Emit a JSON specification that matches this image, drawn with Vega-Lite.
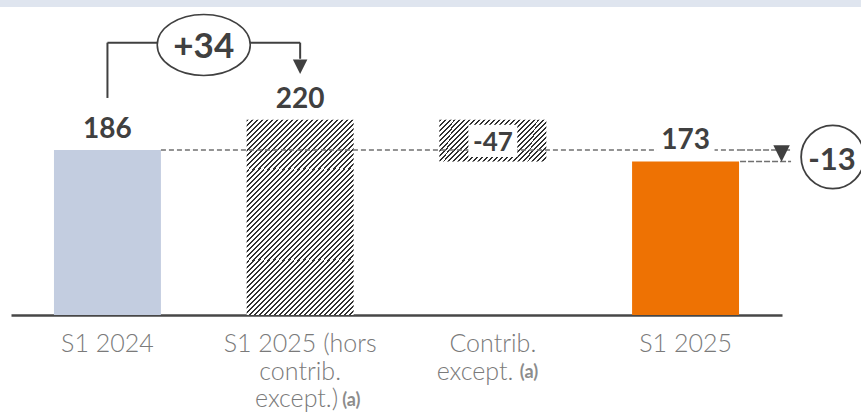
{
  "$schema": "https://vega.github.io/schema/vega-lite/v6.json",
  "autosize": {"type": "none"},
  "width": 771,
  "height": 315,
  "padding": {"left": 11, "top": 0, "right": 79, "bottom": 103},
  "background": "#ffffff",
  "config": {
    "view": {"stroke": null},
    "axisY": {"disable": true},
    "axisX": {"labels": false, "ticks": false, "grid": false, "domainColor": "#474747", "domainWidth": 2.5},
    "text": {"font": "Lato"}
  },
  "datasets": {
    "bars": [
      {"cat": "S1 2024", "value": 186, "base": 0, "label": "186", "kind": "solid"},
      {"cat": "S1 2025 (hors contrib. except.)", "value": 220, "base": 0, "label": "220", "kind": "hatch"},
      {"cat": "Contrib. except.", "value": 220, "base": 173, "label": "-47", "kind": "delta"},
      {"cat": "S1 2025", "value": 173, "base": 0, "label": "173", "kind": "solid"}
    ],
    "notes": [
      {"cat": "S1 2024", "end": "S1 2025 (hors contrib. except.)", "v1": 186, "v2": 220, "label": "+34", "kind": "up"},
      {"cat": "S1 2024", "end": "S1 2025", "v1": 186, "v2": 173, "label": "-13", "kind": "total"}
    ],
    "links": [
      {"seg": "dash", "cat": "S1 2024", "lvl": 186},
      {"seg": "dash", "cat": "S1 2025", "lvl": 186},
      {"seg": "bracket", "cat": "S1 2024", "lvl": 186},
      {"seg": "bracket", "cat": "S1 2025 (hors contrib. except.)", "lvl": 186}
    ],
    "labels": [
      {"cat": "S1 2024", "line": 1, "text": "S1 2024", "sup": ""},
      {"cat": "S1 2025 (hors contrib. except.)", "line": 1, "text": "S1 2025 (hors", "sup": ""},
      {"cat": "S1 2025 (hors contrib. except.)", "line": 2, "text": "contrib.", "sup": ""},
      {"cat": "S1 2025 (hors contrib. except.)", "line": 3, "text": "except.)", "sup": "(a)"},
      {"cat": "Contrib. except.", "line": 1, "text": "Contrib.", "sup": ""},
      {"cat": "Contrib. except.", "line": 2, "text": "except.", "sup": "(a)"},
      {"cat": "S1 2025", "line": 1, "text": "S1 2025", "sup": ""}
    ]
  },
  "layer": [
    {
      "data": {"name": "bars"},
      "transform": [{"filter": "datum.kind == 'solid'"}],
      "mark": {"type": "bar"},
      "encoding": {
        "x": {"field": "cat", "type": "nominal", "title": null, "scale": {"domain": ["S1 2024", "S1 2025 (hors contrib. except.)", "Contrib. except.", "S1 2025"], "paddingInner": 0.445, "paddingOuter": 0.223}},
        "y": {"field": "value", "type": "quantitative", "scale": {"domain": [0, 355], "nice": false, "zero": true}},
        "color": {"field": "cat", "type": "nominal", "scale": {"domain": ["S1 2024", "S1 2025"], "range": ["#c3cde0", "#ee7203"]}, "legend": null}
      }
    },
    {
      "data": {"values": [{"cat": "S1 2024"}]},
      "mark": {"type": "bar", "color": "#dfe5ef", "width": 861, "xOffset": 323},
      "encoding": {
        "x": {"field": "cat", "type": "nominal", "title": null},
        "y": {"datum": 355, "type": "quantitative"},
        "y2": {"datum": 347}
      }
    },
    {
      "data": {"name": "bars"},
      "transform": [{"filter": "datum.kind == 'hatch'"}],
      "mark": {"type": "bar", "color": {"gradient": "linear", "x1": 0, "y1": 0, "x2": 0.6586, "y2": 1.189, "stops": [
        {"offset":0,"color":"#303030"},{"offset":0.0067,"color":"#303030"},{"offset":0.0067,"color":"#ffffff"},{"offset":0.0167,"color":"#ffffff"},
        {"offset":0.0167,"color":"#303030"},{"offset":0.0233,"color":"#303030"},{"offset":0.0233,"color":"#ffffff"},{"offset":0.0333,"color":"#ffffff"},
        {"offset":0.0333,"color":"#303030"},{"offset":0.04,"color":"#303030"},{"offset":0.04,"color":"#ffffff"},{"offset":0.05,"color":"#ffffff"},
        {"offset":0.05,"color":"#303030"},{"offset":0.0567,"color":"#303030"},{"offset":0.0567,"color":"#ffffff"},{"offset":0.0667,"color":"#ffffff"},
        {"offset":0.0667,"color":"#303030"},{"offset":0.0733,"color":"#303030"},{"offset":0.0733,"color":"#ffffff"},{"offset":0.0833,"color":"#ffffff"},
        {"offset":0.0833,"color":"#303030"},{"offset":0.09,"color":"#303030"},{"offset":0.09,"color":"#ffffff"},{"offset":0.1,"color":"#ffffff"},
        {"offset":0.1,"color":"#303030"},{"offset":0.1067,"color":"#303030"},{"offset":0.1067,"color":"#ffffff"},{"offset":0.1167,"color":"#ffffff"},
        {"offset":0.1167,"color":"#303030"},{"offset":0.1233,"color":"#303030"},{"offset":0.1233,"color":"#ffffff"},{"offset":0.1333,"color":"#ffffff"},
        {"offset":0.1333,"color":"#303030"},{"offset":0.14,"color":"#303030"},{"offset":0.14,"color":"#ffffff"},{"offset":0.15,"color":"#ffffff"},
        {"offset":0.15,"color":"#303030"},{"offset":0.1567,"color":"#303030"},{"offset":0.1567,"color":"#ffffff"},{"offset":0.1667,"color":"#ffffff"},
        {"offset":0.1667,"color":"#303030"},{"offset":0.1733,"color":"#303030"},{"offset":0.1733,"color":"#ffffff"},{"offset":0.1833,"color":"#ffffff"},
        {"offset":0.1833,"color":"#303030"},{"offset":0.19,"color":"#303030"},{"offset":0.19,"color":"#ffffff"},{"offset":0.2,"color":"#ffffff"},
        {"offset":0.2,"color":"#303030"},{"offset":0.2067,"color":"#303030"},{"offset":0.2067,"color":"#ffffff"},{"offset":0.2167,"color":"#ffffff"},
        {"offset":0.2167,"color":"#303030"},{"offset":0.2233,"color":"#303030"},{"offset":0.2233,"color":"#ffffff"},{"offset":0.2333,"color":"#ffffff"},
        {"offset":0.2333,"color":"#303030"},{"offset":0.24,"color":"#303030"},{"offset":0.24,"color":"#ffffff"},{"offset":0.25,"color":"#ffffff"},
        {"offset":0.25,"color":"#303030"},{"offset":0.2567,"color":"#303030"},{"offset":0.2567,"color":"#ffffff"},{"offset":0.2667,"color":"#ffffff"},
        {"offset":0.2667,"color":"#303030"},{"offset":0.2733,"color":"#303030"},{"offset":0.2733,"color":"#ffffff"},{"offset":0.2833,"color":"#ffffff"},
        {"offset":0.2833,"color":"#303030"},{"offset":0.29,"color":"#303030"},{"offset":0.29,"color":"#ffffff"},{"offset":0.3,"color":"#ffffff"},
        {"offset":0.3,"color":"#303030"},{"offset":0.3067,"color":"#303030"},{"offset":0.3067,"color":"#ffffff"},{"offset":0.3167,"color":"#ffffff"},
        {"offset":0.3167,"color":"#303030"},{"offset":0.3233,"color":"#303030"},{"offset":0.3233,"color":"#ffffff"},{"offset":0.3333,"color":"#ffffff"},
        {"offset":0.3333,"color":"#303030"},{"offset":0.34,"color":"#303030"},{"offset":0.34,"color":"#ffffff"},{"offset":0.35,"color":"#ffffff"},
        {"offset":0.35,"color":"#303030"},{"offset":0.3567,"color":"#303030"},{"offset":0.3567,"color":"#ffffff"},{"offset":0.3667,"color":"#ffffff"},
        {"offset":0.3667,"color":"#303030"},{"offset":0.3733,"color":"#303030"},{"offset":0.3733,"color":"#ffffff"},{"offset":0.3833,"color":"#ffffff"},
        {"offset":0.3833,"color":"#303030"},{"offset":0.39,"color":"#303030"},{"offset":0.39,"color":"#ffffff"},{"offset":0.4,"color":"#ffffff"},
        {"offset":0.4,"color":"#303030"},{"offset":0.4067,"color":"#303030"},{"offset":0.4067,"color":"#ffffff"},{"offset":0.4167,"color":"#ffffff"},
        {"offset":0.4167,"color":"#303030"},{"offset":0.4233,"color":"#303030"},{"offset":0.4233,"color":"#ffffff"},{"offset":0.4333,"color":"#ffffff"},
        {"offset":0.4333,"color":"#303030"},{"offset":0.44,"color":"#303030"},{"offset":0.44,"color":"#ffffff"},{"offset":0.45,"color":"#ffffff"},
        {"offset":0.45,"color":"#303030"},{"offset":0.4567,"color":"#303030"},{"offset":0.4567,"color":"#ffffff"},{"offset":0.4667,"color":"#ffffff"},
        {"offset":0.4667,"color":"#303030"},{"offset":0.4733,"color":"#303030"},{"offset":0.4733,"color":"#ffffff"},{"offset":0.4833,"color":"#ffffff"},
        {"offset":0.4833,"color":"#303030"},{"offset":0.49,"color":"#303030"},{"offset":0.49,"color":"#ffffff"},{"offset":0.5,"color":"#ffffff"},
        {"offset":0.5,"color":"#303030"},{"offset":0.5067,"color":"#303030"},{"offset":0.5067,"color":"#ffffff"},{"offset":0.5167,"color":"#ffffff"},
        {"offset":0.5167,"color":"#303030"},{"offset":0.5233,"color":"#303030"},{"offset":0.5233,"color":"#ffffff"},{"offset":0.5333,"color":"#ffffff"},
        {"offset":0.5333,"color":"#303030"},{"offset":0.54,"color":"#303030"},{"offset":0.54,"color":"#ffffff"},{"offset":0.55,"color":"#ffffff"},
        {"offset":0.55,"color":"#303030"},{"offset":0.5567,"color":"#303030"},{"offset":0.5567,"color":"#ffffff"},{"offset":0.5667,"color":"#ffffff"},
        {"offset":0.5667,"color":"#303030"},{"offset":0.5733,"color":"#303030"},{"offset":0.5733,"color":"#ffffff"},{"offset":0.5833,"color":"#ffffff"},
        {"offset":0.5833,"color":"#303030"},{"offset":0.59,"color":"#303030"},{"offset":0.59,"color":"#ffffff"},{"offset":0.6,"color":"#ffffff"},
        {"offset":0.6,"color":"#303030"},{"offset":0.6067,"color":"#303030"},{"offset":0.6067,"color":"#ffffff"},{"offset":0.6167,"color":"#ffffff"},
        {"offset":0.6167,"color":"#303030"},{"offset":0.6233,"color":"#303030"},{"offset":0.6233,"color":"#ffffff"},{"offset":0.6333,"color":"#ffffff"},
        {"offset":0.6333,"color":"#303030"},{"offset":0.64,"color":"#303030"},{"offset":0.64,"color":"#ffffff"},{"offset":0.65,"color":"#ffffff"},
        {"offset":0.65,"color":"#303030"},{"offset":0.6567,"color":"#303030"},{"offset":0.6567,"color":"#ffffff"},{"offset":0.6667,"color":"#ffffff"},
        {"offset":0.6667,"color":"#303030"},{"offset":0.6733,"color":"#303030"},{"offset":0.6733,"color":"#ffffff"},{"offset":0.6833,"color":"#ffffff"},
        {"offset":0.6833,"color":"#303030"},{"offset":0.69,"color":"#303030"},{"offset":0.69,"color":"#ffffff"},{"offset":0.7,"color":"#ffffff"},
        {"offset":0.7,"color":"#303030"},{"offset":0.7067,"color":"#303030"},{"offset":0.7067,"color":"#ffffff"},{"offset":0.7167,"color":"#ffffff"},
        {"offset":0.7167,"color":"#303030"},{"offset":0.7233,"color":"#303030"},{"offset":0.7233,"color":"#ffffff"},{"offset":0.7333,"color":"#ffffff"},
        {"offset":0.7333,"color":"#303030"},{"offset":0.74,"color":"#303030"},{"offset":0.74,"color":"#ffffff"},{"offset":0.75,"color":"#ffffff"},
        {"offset":0.75,"color":"#303030"},{"offset":0.7567,"color":"#303030"},{"offset":0.7567,"color":"#ffffff"},{"offset":0.7667,"color":"#ffffff"},
        {"offset":0.7667,"color":"#303030"},{"offset":0.7733,"color":"#303030"},{"offset":0.7733,"color":"#ffffff"},{"offset":0.7833,"color":"#ffffff"},
        {"offset":0.7833,"color":"#303030"},{"offset":0.79,"color":"#303030"},{"offset":0.79,"color":"#ffffff"},{"offset":0.8,"color":"#ffffff"},
        {"offset":0.8,"color":"#303030"},{"offset":0.8067,"color":"#303030"},{"offset":0.8067,"color":"#ffffff"},{"offset":0.8167,"color":"#ffffff"},
        {"offset":0.8167,"color":"#303030"},{"offset":0.8233,"color":"#303030"},{"offset":0.8233,"color":"#ffffff"},{"offset":0.8333,"color":"#ffffff"},
        {"offset":0.8333,"color":"#303030"},{"offset":0.84,"color":"#303030"},{"offset":0.84,"color":"#ffffff"},{"offset":0.85,"color":"#ffffff"},
        {"offset":0.85,"color":"#303030"},{"offset":0.8567,"color":"#303030"},{"offset":0.8567,"color":"#ffffff"},{"offset":0.8667,"color":"#ffffff"},
        {"offset":0.8667,"color":"#303030"},{"offset":0.8733,"color":"#303030"},{"offset":0.8733,"color":"#ffffff"},{"offset":0.8833,"color":"#ffffff"},
        {"offset":0.8833,"color":"#303030"},{"offset":0.89,"color":"#303030"},{"offset":0.89,"color":"#ffffff"},{"offset":0.9,"color":"#ffffff"},
        {"offset":0.9,"color":"#303030"},{"offset":0.9067,"color":"#303030"},{"offset":0.9067,"color":"#ffffff"},{"offset":0.9167,"color":"#ffffff"},
        {"offset":0.9167,"color":"#303030"},{"offset":0.9233,"color":"#303030"},{"offset":0.9233,"color":"#ffffff"},{"offset":0.9333,"color":"#ffffff"},
        {"offset":0.9333,"color":"#303030"},{"offset":0.94,"color":"#303030"},{"offset":0.94,"color":"#ffffff"},{"offset":0.95,"color":"#ffffff"},
        {"offset":0.95,"color":"#303030"},{"offset":0.9567,"color":"#303030"},{"offset":0.9567,"color":"#ffffff"},{"offset":0.9667,"color":"#ffffff"},
        {"offset":0.9667,"color":"#303030"},{"offset":0.9733,"color":"#303030"},{"offset":0.9733,"color":"#ffffff"},{"offset":0.9833,"color":"#ffffff"},
        {"offset":0.9833,"color":"#303030"},{"offset":0.99,"color":"#303030"},{"offset":0.99,"color":"#ffffff"},{"offset":1,"color":"#ffffff"}
      ]}},
      "encoding": {
        "x": {"field": "cat", "type": "nominal", "title": null},
        "y": {"field": "value", "type": "quantitative"}
      }
    },
    {
      "data": {"name": "bars"},
      "transform": [{"filter": "datum.kind == 'delta'"}],
      "mark": {"type": "bar", "color": {"gradient": "linear", "x1": 0, "y1": 0, "x2": 1.206, "y2": 0.4658, "stops": [
        {"offset":0,"color":"#303030"},{"offset":0.0133,"color":"#303030"},{"offset":0.0133,"color":"#ffffff"},{"offset":0.0333,"color":"#ffffff"},
        {"offset":0.0333,"color":"#303030"},{"offset":0.0467,"color":"#303030"},{"offset":0.0467,"color":"#ffffff"},{"offset":0.0667,"color":"#ffffff"},
        {"offset":0.0667,"color":"#303030"},{"offset":0.08,"color":"#303030"},{"offset":0.08,"color":"#ffffff"},{"offset":0.1,"color":"#ffffff"},
        {"offset":0.1,"color":"#303030"},{"offset":0.1133,"color":"#303030"},{"offset":0.1133,"color":"#ffffff"},{"offset":0.1333,"color":"#ffffff"},
        {"offset":0.1333,"color":"#303030"},{"offset":0.1467,"color":"#303030"},{"offset":0.1467,"color":"#ffffff"},{"offset":0.1667,"color":"#ffffff"},
        {"offset":0.1667,"color":"#303030"},{"offset":0.18,"color":"#303030"},{"offset":0.18,"color":"#ffffff"},{"offset":0.2,"color":"#ffffff"},
        {"offset":0.2,"color":"#303030"},{"offset":0.2133,"color":"#303030"},{"offset":0.2133,"color":"#ffffff"},{"offset":0.2333,"color":"#ffffff"},
        {"offset":0.2333,"color":"#303030"},{"offset":0.2467,"color":"#303030"},{"offset":0.2467,"color":"#ffffff"},{"offset":0.2667,"color":"#ffffff"},
        {"offset":0.2667,"color":"#303030"},{"offset":0.28,"color":"#303030"},{"offset":0.28,"color":"#ffffff"},{"offset":0.3,"color":"#ffffff"},
        {"offset":0.3,"color":"#303030"},{"offset":0.3133,"color":"#303030"},{"offset":0.3133,"color":"#ffffff"},{"offset":0.3333,"color":"#ffffff"},
        {"offset":0.3333,"color":"#303030"},{"offset":0.3467,"color":"#303030"},{"offset":0.3467,"color":"#ffffff"},{"offset":0.3667,"color":"#ffffff"},
        {"offset":0.3667,"color":"#303030"},{"offset":0.38,"color":"#303030"},{"offset":0.38,"color":"#ffffff"},{"offset":0.4,"color":"#ffffff"},
        {"offset":0.4,"color":"#303030"},{"offset":0.4133,"color":"#303030"},{"offset":0.4133,"color":"#ffffff"},{"offset":0.4333,"color":"#ffffff"},
        {"offset":0.4333,"color":"#303030"},{"offset":0.4467,"color":"#303030"},{"offset":0.4467,"color":"#ffffff"},{"offset":0.4667,"color":"#ffffff"},
        {"offset":0.4667,"color":"#303030"},{"offset":0.48,"color":"#303030"},{"offset":0.48,"color":"#ffffff"},{"offset":0.5,"color":"#ffffff"},
        {"offset":0.5,"color":"#303030"},{"offset":0.5133,"color":"#303030"},{"offset":0.5133,"color":"#ffffff"},{"offset":0.5333,"color":"#ffffff"},
        {"offset":0.5333,"color":"#303030"},{"offset":0.5467,"color":"#303030"},{"offset":0.5467,"color":"#ffffff"},{"offset":0.5667,"color":"#ffffff"},
        {"offset":0.5667,"color":"#303030"},{"offset":0.58,"color":"#303030"},{"offset":0.58,"color":"#ffffff"},{"offset":0.6,"color":"#ffffff"},
        {"offset":0.6,"color":"#303030"},{"offset":0.6133,"color":"#303030"},{"offset":0.6133,"color":"#ffffff"},{"offset":0.6333,"color":"#ffffff"},
        {"offset":0.6333,"color":"#303030"},{"offset":0.6467,"color":"#303030"},{"offset":0.6467,"color":"#ffffff"},{"offset":0.6667,"color":"#ffffff"},
        {"offset":0.6667,"color":"#303030"},{"offset":0.68,"color":"#303030"},{"offset":0.68,"color":"#ffffff"},{"offset":0.7,"color":"#ffffff"},
        {"offset":0.7,"color":"#303030"},{"offset":0.7133,"color":"#303030"},{"offset":0.7133,"color":"#ffffff"},{"offset":0.7333,"color":"#ffffff"},
        {"offset":0.7333,"color":"#303030"},{"offset":0.7467,"color":"#303030"},{"offset":0.7467,"color":"#ffffff"},{"offset":0.7667,"color":"#ffffff"},
        {"offset":0.7667,"color":"#303030"},{"offset":0.78,"color":"#303030"},{"offset":0.78,"color":"#ffffff"},{"offset":0.8,"color":"#ffffff"},
        {"offset":0.8,"color":"#303030"},{"offset":0.8133,"color":"#303030"},{"offset":0.8133,"color":"#ffffff"},{"offset":0.8333,"color":"#ffffff"},
        {"offset":0.8333,"color":"#303030"},{"offset":0.8467,"color":"#303030"},{"offset":0.8467,"color":"#ffffff"},{"offset":0.8667,"color":"#ffffff"},
        {"offset":0.8667,"color":"#303030"},{"offset":0.88,"color":"#303030"},{"offset":0.88,"color":"#ffffff"},{"offset":0.9,"color":"#ffffff"},
        {"offset":0.9,"color":"#303030"},{"offset":0.9133,"color":"#303030"},{"offset":0.9133,"color":"#ffffff"},{"offset":0.9333,"color":"#ffffff"},
        {"offset":0.9333,"color":"#303030"},{"offset":0.9467,"color":"#303030"},{"offset":0.9467,"color":"#ffffff"},{"offset":0.9667,"color":"#ffffff"},
        {"offset":0.9667,"color":"#303030"},{"offset":0.98,"color":"#303030"},{"offset":0.98,"color":"#ffffff"},{"offset":1,"color":"#ffffff"}
      ]}},
      "encoding": {
        "x": {"field": "cat", "type": "nominal", "title": null},
        "y": {"field": "value", "type": "quantitative"},
        "y2": {"field": "base"}
      }
    },
    {
      "data": {"name": "links"},
      "transform": [{"filter": "datum.seg == 'dash'"}],
      "mark": {"type": "line", "color": "#707070", "strokeWidth": 1.6, "strokeDash": [5, 3]},
      "encoding": {
        "x": {"field": "cat", "type": "nominal", "title": null, "bandPosition": 1},
        "y": {"field": "lvl", "type": "quantitative"}
      }
    },
    {
      "data": {"name": "notes"},
      "transform": [{"filter": "datum.kind == 'total'"}],
      "mark": {"type": "bar", "fill": "transparent", "stroke": "#707070", "strokeWidth": 1.6, "strokeDash": [5, 3], "width": 51, "xOffset": 79},
      "encoding": {
        "x": {"field": "end", "type": "nominal", "title": null},
        "y": {"field": "v1", "type": "quantitative"},
        "y2": {"field": "v1"}
      }
    },
    {
      "data": {"name": "notes"},
      "transform": [{"filter": "datum.kind == 'total'"}],
      "mark": {"type": "bar", "fill": "transparent", "stroke": "#707070", "strokeWidth": 1.6, "strokeDash": [5, 3], "width": 51, "xOffset": 80},
      "encoding": {
        "x": {"field": "end", "type": "nominal", "title": null},
        "y": {"field": "v2", "type": "quantitative"},
        "y2": {"field": "v2"}
      }
    },
    {
      "data": {"name": "bars"},
      "transform": [{"filter": "datum.kind == 'delta'"}],
      "mark": {"type": "bar", "color": "#ffffff", "width": 49, "yOffset": 5, "y2Offset": -4.5},
      "encoding": {
        "x": {"field": "cat", "type": "nominal", "title": null},
        "y": {"field": "value", "type": "quantitative"},
        "y2": {"field": "base"}
      }
    },
    {
      "data": {"name": "bars"},
      "transform": [{"filter": "datum.cat == 'S1 2025'"}],
      "mark": {"type": "bar", "color": "#ffffff", "width": 58, "yOffset": -34, "y2Offset": -6},
      "encoding": {
        "x": {"field": "cat", "type": "nominal", "title": null},
        "y": {"field": "value", "type": "quantitative"},
        "y2": {"field": "value"}
      }
    },
    {
      "data": {"name": "notes"},
      "transform": [{"filter": "datum.kind == 'total'"}],
      "mark": {"type": "point", "shape": "M-1,-1L1,-1L0,1Z", "size": 272, "filled": true, "color": "#404040", "opacity": 1, "xOffset": 96, "yOffset": -8},
      "encoding": {
        "x": {"field": "end", "type": "nominal", "title": null},
        "y": {"field": "v2", "type": "quantitative"}
      }
    },
    {
      "data": {"name": "notes"},
      "transform": [{"filter": "datum.kind == 'total'"}],
      "mark": {"type": "point", "shape": "circle", "size": 4000, "filled": true, "fill": "#ffffff", "stroke": "#404040", "strokeWidth": 1.8, "opacity": 1, "xOffset": 147.2, "yOffset": 7},
      "encoding": {
        "x": {"field": "end", "type": "nominal", "title": null},
        "y": {"field": "v1", "type": "quantitative"}
      }
    },
    {
      "data": {"name": "notes"},
      "transform": [{"filter": "datum.kind == 'total'"}],
      "mark": {"type": "text", "fontSize": 31, "fontWeight": "bold", "color": "#404040", "align": "center", "baseline": "alphabetic", "dx": 146.5, "dy": 20},
      "encoding": {
        "x": {"field": "end", "type": "nominal", "title": null},
        "y": {"field": "v1", "type": "quantitative"},
        "text": {"field": "label", "type": "nominal"}
      }
    },
    {
      "data": {"name": "notes"},
      "transform": [{"filter": "datum.kind == 'up'"}],
      "mark": {"type": "rule", "color": "#404040", "strokeWidth": 2, "yOffset": -107.3, "y2Offset": -52},
      "encoding": {
        "x": {"field": "cat", "type": "nominal", "title": null},
        "y": {"field": "v1", "type": "quantitative"},
        "y2": {"field": "v1"}
      }
    },
    {
      "data": {"name": "links"},
      "transform": [{"filter": "datum.seg == 'bracket'"}],
      "mark": {"type": "line", "color": "#404040", "strokeWidth": 2, "yOffset": -107.3},
      "encoding": {
        "x": {"field": "cat", "type": "nominal", "title": null},
        "y": {"field": "lvl", "type": "quantitative"}
      }
    },
    {
      "data": {"name": "notes"},
      "transform": [{"filter": "datum.kind == 'up'"}],
      "mark": {"type": "rule", "color": "#404040", "strokeWidth": 2, "yOffset": -107.3, "y2Offset": -61},
      "encoding": {
        "x": {"field": "end", "type": "nominal", "title": null},
        "y": {"field": "v1", "type": "quantitative"},
        "y2": {"field": "v2"}
      }
    },
    {
      "data": {"name": "notes"},
      "transform": [{"filter": "datum.kind == 'up'"}],
      "mark": {"type": "point", "shape": "M-1,-1L1,-1L0,1Z", "size": 210, "filled": true, "color": "#404040", "opacity": 1, "yOffset": -53},
      "encoding": {
        "x": {"field": "end", "type": "nominal", "title": null},
        "y": {"field": "v2", "type": "quantitative"}
      }
    },
    {
      "data": {"name": "notes"},
      "transform": [{"filter": "datum.kind == 'up'"}],
      "mark": {"type": "point", "shape": "M1,0C1,0.3623,0.5523,0.656,0,0.656C-0.5523,0.656,-1,0.3623,-1,0C-1,-0.3623,-0.5523,-0.656,0,-0.656C0.5523,-0.656,1,-0.3623,1,0Z", "size": 8649, "filled": true, "fill": "#ffffff", "stroke": "#404040", "strokeWidth": 1.6, "opacity": 1, "xOffset": 96.3, "yOffset": -105},
      "encoding": {
        "x": {"field": "cat", "type": "nominal", "title": null},
        "y": {"field": "v1", "type": "quantitative"}
      }
    },
    {
      "data": {"name": "notes"},
      "transform": [{"filter": "datum.kind == 'up'"}],
      "mark": {"type": "text", "fontSize": 35, "fontWeight": "bold", "color": "#404040", "align": "center", "baseline": "alphabetic", "dx": 96.3, "dy": -92},
      "encoding": {
        "x": {"field": "cat", "type": "nominal", "title": null},
        "y": {"field": "v1", "type": "quantitative"},
        "text": {"field": "label", "type": "nominal"}
      }
    },
    {
      "data": {"name": "bars"},
      "transform": [{"filter": "datum.kind != 'delta'"}],
      "mark": {"type": "text", "fontSize": 28, "fontWeight": "bold", "color": "#404040", "align": "center", "baseline": "alphabetic", "dy": -12},
      "encoding": {
        "x": {"field": "cat", "type": "nominal", "title": null},
        "y": {"field": "value", "type": "quantitative"},
        "text": {"field": "label", "type": "nominal"}
      }
    },
    {
      "data": {"name": "bars"},
      "transform": [{"filter": "datum.kind == 'delta'"}],
      "mark": {"type": "text", "fontSize": 26, "fontWeight": "bold", "color": "#404040", "align": "center", "baseline": "alphabetic", "dy": 31},
      "encoding": {
        "x": {"field": "cat", "type": "nominal", "title": null},
        "y": {"field": "value", "type": "quantitative"},
        "text": {"field": "label", "type": "nominal"}
      }
    },
    {
      "data": {"name": "labels"},
      "transform": [{"filter": "datum.line == 1"}],
      "mark": {"type": "text", "fontSize": 25, "fontWeight": 300, "color": "#7a7a7a", "align": "center", "baseline": "alphabetic", "dy": 37},
      "encoding": {
        "x": {"field": "cat", "type": "nominal", "title": null},
        "y": {"datum": 0, "type": "quantitative"},
        "text": {"field": "text", "type": "nominal"}
      }
    },
    {
      "data": {"name": "labels"},
      "transform": [{"filter": "datum.line == 2 && datum.sup == ''"}],
      "mark": {"type": "text", "fontSize": 25, "fontWeight": 300, "color": "#7a7a7a", "align": "center", "baseline": "alphabetic", "dy": 65},
      "encoding": {
        "x": {"field": "cat", "type": "nominal", "title": null},
        "y": {"datum": 0, "type": "quantitative"},
        "text": {"field": "text", "type": "nominal"}
      }
    },
    {
      "data": {"name": "labels"},
      "transform": [{"filter": "datum.line == 2 && datum.sup != ''"}],
      "mark": {"type": "text", "fontSize": 25, "fontWeight": 300, "color": "#7a7a7a", "align": "right", "baseline": "alphabetic", "dx": 20.5, "dy": 65},
      "encoding": {
        "x": {"field": "cat", "type": "nominal", "title": null},
        "y": {"datum": 0, "type": "quantitative"},
        "text": {"field": "text", "type": "nominal"}
      }
    },
    {
      "data": {"name": "labels"},
      "transform": [{"filter": "datum.line == 2 && datum.sup != ''"}],
      "mark": {"type": "text", "fontSize": 18, "fontWeight": "bold", "color": "#8c8c8c", "align": "left", "baseline": "alphabetic", "dx": 27, "dy": 63},
      "encoding": {
        "x": {"field": "cat", "type": "nominal", "title": null},
        "y": {"datum": 0, "type": "quantitative"},
        "text": {"field": "sup", "type": "nominal"}
      }
    },
    {
      "data": {"name": "labels"},
      "transform": [{"filter": "datum.line == 3"}],
      "mark": {"type": "text", "fontSize": 25, "fontWeight": 300, "color": "#7a7a7a", "align": "right", "baseline": "alphabetic", "dx": 38, "dy": 92},
      "encoding": {
        "x": {"field": "cat", "type": "nominal", "title": null},
        "y": {"datum": 0, "type": "quantitative"},
        "text": {"field": "text", "type": "nominal"}
      }
    },
    {
      "data": {"name": "labels"},
      "transform": [{"filter": "datum.line == 3"}],
      "mark": {"type": "text", "fontSize": 18, "fontWeight": "bold", "color": "#8c8c8c", "align": "left", "baseline": "alphabetic", "dx": 42, "dy": 90.5},
      "encoding": {
        "x": {"field": "cat", "type": "nominal", "title": null},
        "y": {"datum": 0, "type": "quantitative"},
        "text": {"field": "sup", "type": "nominal"}
      }
    }
  ]
}
